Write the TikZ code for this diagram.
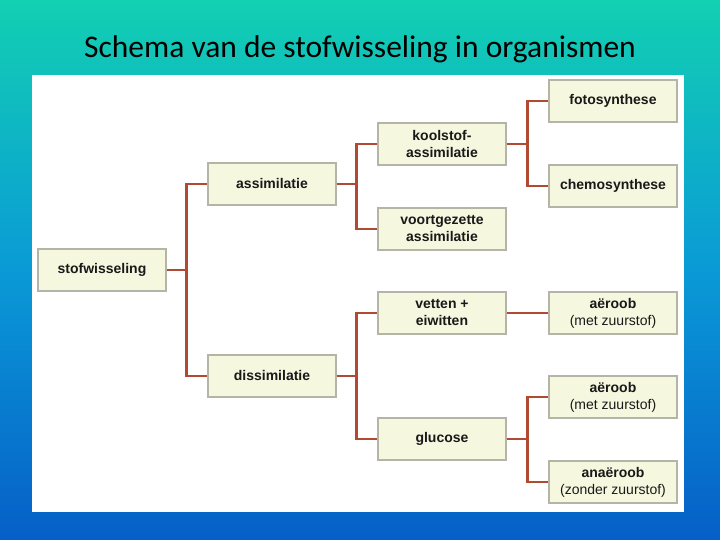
\documentclass[tikz,border=0pt]{standalone}
\usepackage{fontspec}
\setmainfont{Liberation Sans}
\newfontfamily\titlefont{Carlito}
\usepackage{tikz}
\usetikzlibrary{positioning, calc}

\definecolor{bgtop}{HTML}{12D0B2}
\definecolor{bgmid}{HTML}{0A9AD6}
\definecolor{bgbot}{HTML}{065FC8}
\definecolor{boxfill}{HTML}{F5F7DF}
\definecolor{boxline}{HTML}{B4B5A6}
\definecolor{linkred}{HTML}{B04A32}

\begin{document}
\begin{tikzpicture}[
    x=1pt, y=1pt,
    item/.style={rectangle, draw=boxline, fill=boxfill, line width=1.2pt, minimum width=128pt, minimum height=42pt, align=center, font=\fontsize{14}{17}\selectfont\bfseries, text=black!90},
    link/.style={draw=linkred, line width=2.4pt}
]
    % Background and panel
    \shade[top color=bgtop, bottom color=bgbot, middle color=bgmid] (0,0) rectangle (720,540);
    \useasboundingbox (0,0) rectangle (720,540);
    \fill[white] (32,28) rectangle (684,465);
    \node[font=\titlefont\fontsize{31.5}{34}\selectfont] (title) at (360,491) {Schema van de stofwisseling in organismen};

    % Level 1
    \node[item] (stof) at (102,270) {stofwisseling};

    % Level 2
    \node[item] (assim) at (272,356) {assimilatie};
    \node[item] (dissim) at (272,164) {dissimilatie};

    % Level 3
    \node[item] (kool) at (442,396) {koolstof-\\assimilatie};
    \node[item] (voort) at (442,311) {voortgezette\\assimilatie};
    \node[item] (vetten) at (442,227) {vetten +\\eiwitten};
    \node[item] (gluc) at (442,101) {glucose};

    % Level 4
    \node[item] (foto) at (613,439) {fotosynthese};
    \node[item] (chemo) at (613,354) {chemosynthese};
    \node[item] (aer1) at (613,227) {a\"eroob\\{\mdseries (met zuurstof)}};
    \node[item] (aer2) at (613,143) {a\"eroob\\{\mdseries (met zuurstof)}};
    \node[item] (anaer) at (613,58) {ana\"eroob\\{\mdseries (zonder zuurstof)}};

    % Connectors
    \draw[link] (stof.east) -- ++(20,0) |- (assim.west);
    \draw[link] (stof.east) -- ++(20,0) |- (dissim.west);
    \draw[link] (assim.east) -- ++(20,0) |- (kool.west);
    \draw[link] (assim.east) -- ++(20,0) |- (voort.west);
    \draw[link] (dissim.east) -- ++(20,0) |- (vetten.west);
    \draw[link] (dissim.east) -- ++(20,0) |- (gluc.west);
    \draw[link] (kool.east) -- ++(21,0) |- (foto.west);
    \draw[link] (kool.east) -- ++(21,0) |- (chemo.west);
    \draw[link] (vetten.east) -- (aer1.west);
    \draw[link] (gluc.east) -- ++(21,0) |- (aer2.west);
    \draw[link] (gluc.east) -- ++(21,0) |- (anaer.west);
\end{tikzpicture}
\end{document}
